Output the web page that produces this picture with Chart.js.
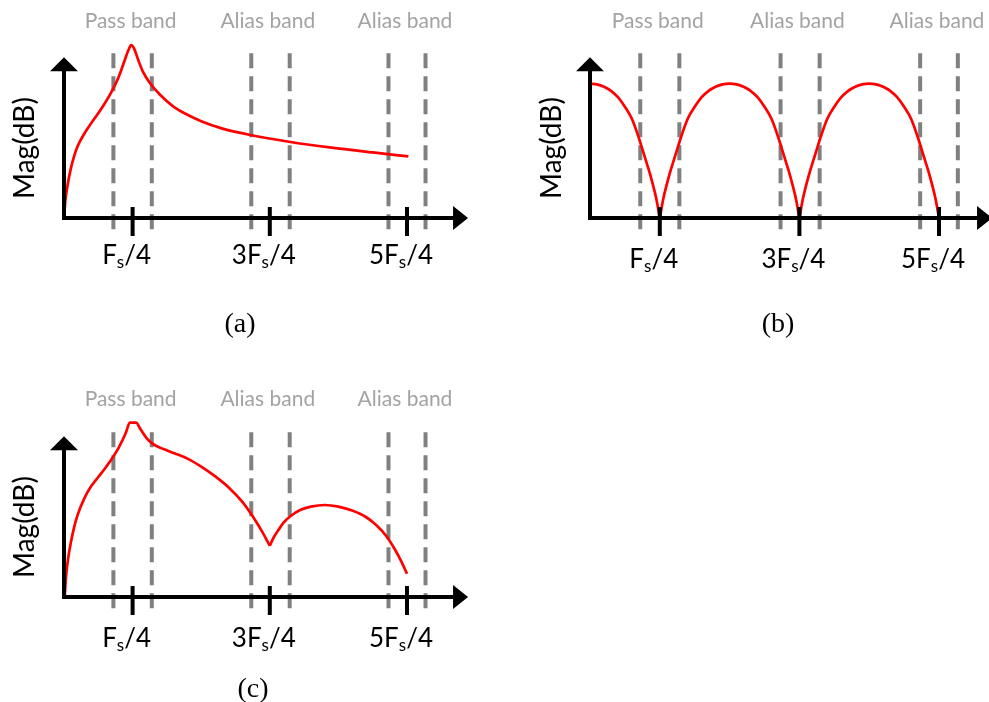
<!DOCTYPE html>
<html>
<head>
<meta charset="utf-8">
<script src="https://cdn.jsdelivr.net/npm/chart.js@4.4.1/dist/chart.umd.min.js"></script>
<style>
  html, body { margin: 0; padding: 0; background: #fff; }
  canvas { position: absolute; display: block; }
</style>
</head>
<body>
<canvas id="panelA" width="495" height="350" style="left:0;top:0"></canvas>
<canvas id="panelB" width="494" height="350" style="left:495px;top:0"></canvas>
<canvas id="panelC" width="495" height="352" style="left:0;top:350px"></canvas>
<script>
// frequency axis in units of Fs/4
const bandEdges = [0.72, 1.28, 2.73, 3.29, 4.73, 5.27];
const bandNames = ['Pass band', 'Alias band', 'Alias band'];
const tickValues = [1, 3, 5];
const tickPrefixes = ['', '3', '5'];

// (a) resonant response
const freqA = [0, 0.02, 0.05, 0.1, 0.15, 0.2, 0.3, 0.4, 0.5, 0.6, 0.7, 0.8, 0.88, 0.94, 0.98, 1.02, 1.08, 1.15, 1.25, 1.4, 1.6, 1.8, 2.0, 2.3, 2.7, 3.3, 3.9, 4.5, 5.02];
const magA = [0, 1.1, 2.0, 3.1, 3.9, 4.5, 5.3, 5.95, 6.55, 7.2, 7.95, 8.85, 9.8, 10.5, 10.8, 10.6, 9.9, 9.15, 8.45, 7.7, 6.95, 6.45, 6.05, 5.6, 5.2, 4.75, 4.4, 4.1, 3.85];
const notchesA = [];

// (b) sinc-type filter with notches at odd multiples of Fs/4
const freqB = [0, 0.1, 0.2, 0.3, 0.4, 0.5, 0.6, 0.7, 0.75, 0.8, 0.85, 0.9, 0.95, 1,
  1.05, 1.1, 1.15, 1.2, 1.25, 1.3, 1.4, 1.5, 1.6, 1.7, 1.8, 1.9, 2,
  2.1, 2.2, 2.3, 2.4, 2.5, 2.6, 2.7, 2.75, 2.8, 2.85, 2.9, 2.95, 3,
  3.05, 3.1, 3.15, 3.2, 3.25, 3.3, 3.4, 3.5, 3.6, 3.7, 3.8, 3.9, 4,
  4.1, 4.2, 4.3, 4.4, 4.5, 4.6, 4.7, 4.75, 4.8, 4.85, 4.9, 4.95, 5];
const magB = [8.4, 8.35, 8.2, 7.95, 7.55, 6.95, 6.2, 5.0, 4.3, 3.6, 2.9, 2.1, 1.2, 0,
  1.2, 2.1, 2.9, 3.6, 4.3, 5.0, 6.2, 6.95, 7.55, 7.95, 8.2, 8.35, 8.4,
  8.35, 8.2, 7.95, 7.55, 6.95, 6.2, 5.0, 4.3, 3.6, 2.9, 2.1, 1.2, 0,
  1.2, 2.1, 2.9, 3.6, 4.3, 5.0, 6.2, 6.95, 7.55, 7.95, 8.2, 8.35, 8.4,
  8.35, 8.2, 7.95, 7.55, 6.95, 6.2, 5.0, 4.3, 3.6, 2.9, 2.1, 1.2, 0];
const notchesB = [1, 3];

// (c) combined response
const freqC = [0.01, 0.03, 0.06, 0.1, 0.15, 0.2, 0.3, 0.4, 0.5, 0.6, 0.7, 0.8, 0.9, 0.96, 1.05, 1.12, 1.2, 1.3, 1.45, 1.6, 1.8, 2.0, 2.2, 2.4, 2.6, 2.75, 2.88, 3.0,
  3.06, 3.12, 3.2, 3.3, 3.45, 3.6, 3.8, 4.0, 4.2, 4.4, 4.55, 4.7, 4.82, 4.92, 5.0];
const magC = [0, 1.3, 2.4, 3.4, 4.4, 5.15, 6.2, 6.95, 7.5, 8.05, 8.65, 9.35, 10.25, 10.9, 10.9, 10.45, 9.95, 9.55, 9.25, 9.0, 8.65, 8.15, 7.55, 6.85, 5.95, 5.05, 4.15, 3.2,
  3.75, 4.15, 4.65, 5.05, 5.45, 5.65, 5.75, 5.65, 5.4, 5.0, 4.5, 3.8, 3.0, 2.2, 1.45];
const notchesC = [3];

const DASH_TOP = 10.3;
const DASH_BOTTOM = -1.15;

// break a response into pieces at its notches so each notch stays sharp
function splitAtNotches(freq, mag, notches) {
  const pieces = [[]];
  freq.forEach((f, i) => {
    const pt = { x: f, y: mag[i] };
    pieces[pieces.length - 1].push(pt);
    if (notches.includes(f) && i > 0 && i < freq.length - 1) pieces.push([pt]);
  });
  return pieces;
}

function drawFsLabel(ctx, prefix, cx, baseline) {
  const big = '26px Lato', small = '17px Lato';
  ctx.font = big;
  const w1 = ctx.measureText(prefix + 'F').width;
  const w3 = ctx.measureText('/4').width;
  ctx.font = small;
  const w2 = ctx.measureText('s').width;
  let x = cx - (w1 + w2 + w3) / 2;
  ctx.textAlign = 'left';
  ctx.fillStyle = '#000';
  ctx.font = big;
  ctx.fillText(prefix + 'F', x, baseline);
  x += w1;
  ctx.font = small;
  ctx.fillText('s', x, baseline + 4);
  x += w2;
  ctx.font = big;
  ctx.fillText('/4', x, baseline);
}

// axes with arrow heads, tick marks and all the text
const figurePlugin = {
  id: 'figure',
  afterDatasetsDraw(chart, args, opts) {
    const ctx = chart.ctx;
    const xs = chart.scales.x, ys = chart.scales.y;
    const ox = xs.getPixelForValue(0), oy = ys.getPixelForValue(0);
    const tipX = xs.getPixelForValue(opts.xEnd), tipY = ys.getPixelForValue(opts.yEnd);
    ctx.save();
    ctx.strokeStyle = '#000';
    ctx.fillStyle = '#000';
    ctx.lineWidth = 4;
    ctx.beginPath();
    ctx.moveTo(ox - 2, oy);
    ctx.lineTo(tipX - 12, oy);
    ctx.moveTo(ox, oy + 2);
    ctx.lineTo(ox, tipY + 12);
    tickValues.forEach(v => {
      const px = xs.getPixelForValue(v);
      ctx.moveTo(px, oy - 11);
      ctx.lineTo(px, oy + 18);
    });
    ctx.stroke();

    ctx.beginPath();
    ctx.moveTo(tipX, oy);
    ctx.lineTo(tipX - 15, oy - 12);
    ctx.lineTo(tipX - 15, oy + 12);
    ctx.closePath();
    ctx.moveTo(ox, tipY);
    ctx.lineTo(ox - 14, tipY + 14);
    ctx.lineTo(ox + 14, tipY + 14);
    ctx.closePath();
    ctx.fill();

    ctx.font = '21px Lato';
    ctx.fillStyle = '#a3a3a3';
    ctx.textAlign = 'center';
    ctx.textBaseline = 'alphabetic';
    bandNames.forEach((name, i) => {
      ctx.fillText(name, xs.getPixelForValue(tickValues[i]) - 2, opts.bandBaseline);
    });

    tickValues.forEach((v, i) => {
      drawFsLabel(ctx, tickPrefixes[i], xs.getPixelForValue(v) - 6, oy + opts.labelDrop);
    });

    ctx.save();
    ctx.translate(opts.titleX, opts.titleY);
    ctx.rotate(-Math.PI / 2);
    ctx.font = '28px Lato';
    ctx.fillStyle = '#000';
    ctx.textAlign = 'center';
    ctx.fillText('Mag(dB)', 0, 0);
    ctx.restore();

    ctx.font = '28px "Liberation Serif"';
    ctx.fillStyle = '#000';
    ctx.textAlign = 'center';
    ctx.fillText(opts.caption, opts.captionX, opts.captionY);
    ctx.restore();
  }
};

function makePanel(id, frame, freq, mag, notches) {
  const canvas = document.getElementById(id);
  const W = canvas.width, H = canvas.height;
  const datasets = splitAtNotches(freq, mag, notches).map(piece => ({
    data: piece,
    borderColor: '#ff0000',
    borderWidth: 2.7,
    pointRadius: 0,
    cubicInterpolationMode: 'monotone',
    order: 0
  }));
  bandEdges.forEach(e => datasets.push({
    data: [{ x: e, y: DASH_TOP }, { x: e, y: DASH_BOTTOM }],
    borderColor: '#808080',
    borderWidth: 4,
    borderDash: [15, 8],
    pointRadius: 0,
    order: 1
  }));
  return new Chart(canvas, {
    type: 'line',
    data: { datasets },
    options: {
      responsive: false,
      animation: false,
      events: [],
      layout: { padding: 0 },
      plugins: {
        legend: { display: false },
        tooltip: { enabled: false },
        figure: frame
      },
      scales: {
        x: { type: 'linear', display: false, min: -frame.x0 / frame.xUnit, max: (W - frame.x0) / frame.xUnit },
        y: { type: 'linear', display: false, min: (frame.y0 - H) / frame.yUnit, max: frame.y0 / frame.yUnit }
      }
    },
    plugins: [figurePlugin]
  });
}

makePanel('panelA', {
  x0: 64, xUnit: 68.6, y0: 218, yUnit: 16, xEnd: 5.89, yEnd: 10.05,
  bandBaseline: 28, labelDrop: 46, titleX: 34, titleY: 148,
  caption: '(a)', captionX: 240, captionY: 332
}, freqA, magA, notchesA);

makePanel('panelB', {
  x0: 95, xUnit: 69.8, y0: 218, yUnit: 16, xEnd: 5.76, yEnd: 10.05,
  bandBaseline: 28, labelDrop: 50, titleX: 66, titleY: 148,
  caption: '(b)', captionX: 283, captionY: 332
}, freqB, magB, notchesB);

makePanel('panelC', {
  x0: 64, xUnit: 68.6, y0: 247, yUnit: 16, xEnd: 5.89, yEnd: 10.05,
  bandBaseline: 56, labelDrop: 50, titleX: 34, titleY: 177,
  caption: '(c)', captionX: 253, captionY: 347
}, freqC, magC, notchesC);
</script>
</body>
</html>
